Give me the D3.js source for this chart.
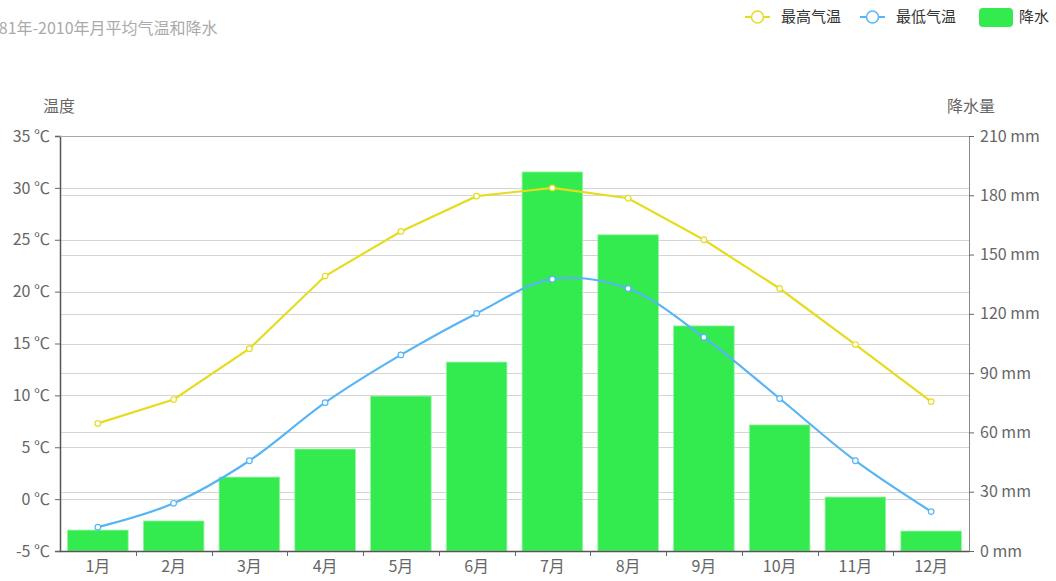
<!DOCTYPE html>
<html>
<head>
<meta charset="utf-8">
<script src="https://cdn.jsdelivr.net/npm/d3@7"></script>
<style>
  body { margin: 0; background: #fff; }
  svg { display: block; font-family: "Noto Sans CJK SC", "Noto Sans", sans-serif; }
</style>
</head>
<body>
<script>
var w = 1056, h = 581;
var months = ["1月","2月","3月","4月","5月","6月","7月","8月","9月","10月","11月","12月"];
var tempHigh = [7.3, 9.6, 14.5, 21.5, 25.8, 29.2, 30.0, 29.0, 25.0, 20.3, 14.9, 9.4];
var tempLow = [-2.7, -0.4, 3.7, 9.3, 13.9, 17.9, 21.2, 20.3, 15.6, 9.7, 3.7, -1.2];
var rain = [10.6, 15.2, 37.4, 51.6, 78.4, 95.6, 191.8, 160, 113.9, 63.8, 27.3, 10.1];
var tempTicks = [-5, 0, 5, 10, 15, 20, 25, 30, 35];
var rainTicks = [0, 30, 60, 90, 120, 150, 180, 210];

var colHigh = "#e6dc1f", colLow = "#57b5f6", colRain = "#33ea4f";
var pLeft = 60, pRight = 969, pTop = 136, pBottom = 551;

var svg = d3.select("body").append("svg").attr("width", w).attr("height", h);

var x = d3.scaleBand().domain(months).range([pLeft, pRight]);
var yT = d3.scaleLinear().domain([-5, 35]).range([pBottom, pTop]);
var yR = d3.scaleLinear().domain([0, 210]).range([pBottom, pTop]);

// grid lines, both axes
svg.append("g").selectAll("line").data(tempTicks).enter().append("line")
   .attr("x1", pLeft).attr("x2", pRight)
   .attr("y1", function(d) { return Math.round(yT(d)) + 0.5; })
   .attr("y2", function(d) { return Math.round(yT(d)) + 0.5; })
   .attr("stroke", "#d4d4d4");
svg.append("g").selectAll("line").data(rainTicks).enter().append("line")
   .attr("x1", pLeft).attr("x2", pRight)
   .attr("y1", function(d) { return Math.round(yR(d)) + 0.5; })
   .attr("y2", function(d) { return Math.round(yR(d)) + 0.5; })
   .attr("stroke", "#d4d4d4");

// bars
var bw = x.bandwidth() * 0.8;
svg.append("g").selectAll("rect").data(rain).enter().append("rect")
   .attr("x", function(d, i) { return x(months[i]) + (x.bandwidth() - bw) / 2; })
   .attr("y", function(d) { return yR(d); })
   .attr("width", bw)
   .attr("height", function(d) { return pBottom - yR(d); })
   .attr("fill", colRain)
   .attr("stroke", "#9af3a6")
   .attr("stroke-width", 0.8);

// axes
function styleAxis(g) {
  g.selectAll("path").attr("stroke", "#555").attr("stroke-width", 1.5);
  g.selectAll("line").attr("stroke", "#666");
  g.selectAll("text").attr("fill", "#666").style("font-size", "16px")
   .style("font-family", "\"Noto Sans CJK SC\", sans-serif");
}
var axL = svg.append("g").attr("transform", "translate(" + pLeft + ",0)")
  .call(d3.axisLeft(yT).tickValues(tempTicks).tickSize(5).tickPadding(5)
        .tickFormat(function(d) { return d + " ℃"; }));
styleAxis(axL);
var axR = svg.append("g").attr("transform", "translate(" + pRight + ",0)")
  .call(d3.axisRight(yR).tickValues(rainTicks).tickSize(5).tickPadding(6)
        .tickFormat(function(d) { return d + " mm"; }));
styleAxis(axR);
axR.select("path").attr("stroke", "#888").attr("stroke-width", 1);
var axB = svg.append("g").attr("transform", "translate(0," + pBottom + ")")
  .call(d3.axisBottom(x).tickSize(0).tickPadding(10));
styleAxis(axB);
// x ticks between categories
axB.selectAll(".sep").data(months.slice(1)).enter().append("line")
   .attr("x1", function(d) { return Math.round(x(d)) + 0.5; })
   .attr("x2", function(d) { return Math.round(x(d)) + 0.5; })
   .attr("y1", 0).attr("y2", 5).attr("stroke", "#666");
svg.append("line").attr("x1", pLeft).attr("x2", pRight)
   .attr("y1", pTop + 0.5).attr("y2", pTop + 0.5).attr("stroke", "#aaa");

// lines
var cx = function(d, i) { return x(months[i]) + x.bandwidth() / 2; };
var lineHigh = d3.line().x(cx).y(function(d) { return yT(d); });
var lineLow = d3.line().x(cx).y(function(d) { return yT(d); }).curve(d3.curveCatmullRom.alpha(0.5));
svg.append("path").datum(tempHigh).attr("d", lineHigh)
   .attr("fill", "none").attr("stroke", colHigh).attr("stroke-width", 2.2);
svg.append("path").datum(tempLow).attr("d", lineLow)
   .attr("fill", "none").attr("stroke", colLow).attr("stroke-width", 2.2);
[[tempHigh, colHigh], [tempLow, colLow]].forEach(function(s) {
  svg.append("g").selectAll("circle").data(s[0]).enter().append("circle")
     .attr("cx", cx).attr("cy", function(d) { return yT(d); })
     .attr("r", 2.8).attr("fill", "#fff").attr("stroke", s[1]).attr("stroke-width", 1.2);
});

// axis names
svg.append("text").attr("x", 59).attr("y", 112).attr("text-anchor", "middle")
   .attr("fill", "#666").style("font-size", "16px").text("温度");
svg.append("text").attr("x", 971).attr("y", 112).attr("text-anchor", "middle")
   .attr("fill", "#666").style("font-size", "16px").text("降水量");

// title
svg.append("text").attr("x", -19).attr("y", 34).attr("fill", "#aaa")
   .style("font-size", "16px").text("1981年-2010年月平均气温和降水");

// legend
var legend = [["最高气温", colHigh, 745], ["最低气温", colLow, 860]];
legend.forEach(function(l) {
  var g = svg.append("g").attr("transform", "translate(" + l[2] + ",17)");
  g.append("line").attr("x1", 0).attr("x2", 25).attr("stroke", l[1]).attr("stroke-width", 2);
  g.append("circle").attr("cx", 12.5).attr("r", 6).attr("fill", "#fff").attr("stroke", l[1]).attr("stroke-width", 1.5);
  g.append("text").attr("x", 36).attr("y", 5).attr("fill", "#333").style("font-size", "15px").text(l[0]);
});
svg.append("rect").attr("x", 979).attr("y", 8).attr("width", 34).attr("height", 19).attr("rx", 4)
   .attr("fill", colRain);
svg.append("text").attr("x", 1019).attr("y", 22).attr("fill", "#333").style("font-size", "15px").text("降水");
</script>
</body>
</html>
